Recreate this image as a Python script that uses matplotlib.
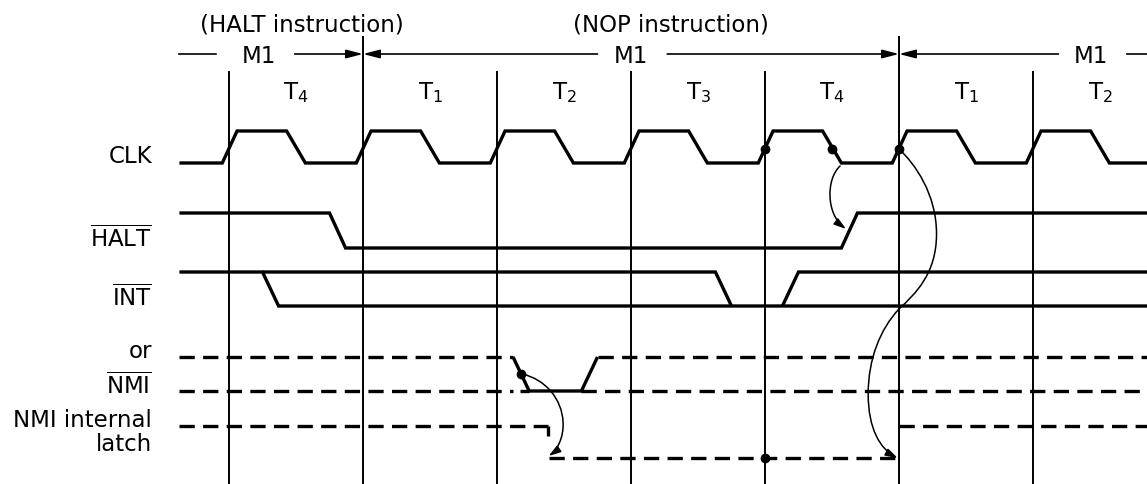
import numpy as np
import matplotlib
matplotlib.use('Agg')
import matplotlib.pyplot as plt
from matplotlib.path import Path
from matplotlib.patches import FancyArrowPatch

plt.rcParams['font.family'] = ['DejaVu Sans']
plt.rcParams['mathtext.fontset'] = 'dejavusans'
plt.rcParams['lines.scale_dashes'] = False

# ---- data: time in clock periods (T-state boundaries at 0..6), level 0/1 ----
t_subs = ['4', '1', '2', '3', '4', '1', '2']
boundaries = [0, 1, 2, 3, 4, 5, 6]
m1_bounds = [1, 5]

clk_t = [-0.37, -0.05, 0.06, 0.43, 0.57,
         0.95, 1.06, 1.43, 1.57,
         1.95, 2.06, 2.43, 2.57,
         2.95, 3.06, 3.43, 3.57,
         3.95, 4.06, 4.43, 4.57,
         4.95, 5.06, 5.43, 5.57,
         5.95, 6.06, 6.43, 6.57, 6.86]
clk_v = [0, 0, 1, 1, 0,
         0, 1, 1, 0,
         0, 1, 1, 0,
         0, 1, 1, 0,
         0, 1, 1, 0,
         0, 1, 1, 0,
         0, 1, 1, 0, 0]

halt_t = [-0.37, 0.75, 0.87, 4.57, 4.69, 6.86]
halt_v = [1, 1, 0, 0, 1, 1]

int_a_t = [-0.37, 0.25, 0.37, 6.86]
int_a_v = [1, 1, 0, 0]
int_b_t = [0.25, 3.63, 3.75]
int_b_v = [1, 1, 0]
int_c_t = [4.13, 4.25, 6.86]
int_c_v = [0, 1, 1]

# NMI: solid part of the pulse, dashed "don't care" segments (t0, t1, level)
nmi_solid_t = [2.12, 2.24, 2.63, 2.75]
nmi_solid_v = [1, 0, 0, 1]
nmi_low_pre = [2.17, 2.24]
nmi_dashed = [(-0.37, 2.12, 1), (-0.37, 2.12, 0), (2.75, 6.86, 1), (2.63, 6.86, 0)]

latch_dashed = [(-0.37, 2.38, 1), (2.39, 5.0, 0), (5.0, 6.86, 1)]
latch_step_t = [2.38, 2.38]
latch_step_v = [1, 0.69]

clk_dots = [4.0, 4.5, 5.0]
nmi_dot = 2.18
latch_dot = 4.0

# curved arrows (t, y) bezier points
arr_halt = [(4.56, 167), (4.455, 180), (4.455, 215), (4.605, 230)]
arr_big = [(5.0, 150), (5.12, 165), (5.28, 195), (5.28, 235),
           (5.28, 275), (5.12, 295), (5.0, 310),
           (4.86, 330), (4.77, 360), (4.77, 395),
           (4.77, 430), (4.86, 450), (4.99, 459)]
arr_nmi = [(2.187, 375), (2.36, 380), (2.485, 400), (2.493, 423),
           (2.5, 440), (2.44, 452), (2.385, 457)]

# ---- layout ----
W, H = 1147, 485
X0, PER = 229, 134
row_low = {'CLK': 164, 'HALT': 249, 'INT': 307, 'NMI': 392, 'LATCH': 459}
row_high = {'CLK': 132, 'HALT': 214, 'INT': 273, 'NMI': 358, 'LATCH': 427}
LW = 2.4
DASH = (0, (11, 6))


def lev(row, v):
    v = np.asarray(v, dtype=float)
    return row_low[row] + (row_high[row] - row_low[row]) * v


fig = plt.figure(figsize=(W / 100, H / 100), dpi=100)
ax = fig.add_axes([0, 0, 1, 1])
ax.set_xlim(-X0 / PER, (W - X0) / PER)
ax.set_ylim(H, 0)
ax.axis('off')

kw = dict(color='black', lw=LW, solid_joinstyle='miter', solid_capstyle='butt')
dkw = dict(color='black', lw=LW, ls=DASH, dash_capstyle='butt')

# boundaries
for b in boundaries:
    top = 38 if b in m1_bounds else 73
    ax.plot([b, b], [top, H], color='black', lw=1.4)

# signals
ax.plot(clk_t, lev('CLK', clk_v), **kw)
ax.plot(halt_t, lev('HALT', halt_v), **kw)
ax.plot(int_a_t, lev('INT', int_a_v), **kw)
ax.plot(int_b_t, lev('INT', int_b_v), **kw)
ax.plot(int_c_t, lev('INT', int_c_v), **kw)
ax.plot(nmi_solid_t, lev('NMI', nmi_solid_v), **kw)
ax.plot(nmi_low_pre, lev('NMI', [0, 0]), **kw)
for t0, t1, v in nmi_dashed:
    ax.plot([t0, t1], lev('NMI', [v, v]), **dkw)
for t0, t1, v in latch_dashed:
    ax.plot([t0, t1], lev('LATCH', [v, v]), **dkw)
ax.plot(latch_step_t, lev('LATCH', latch_step_v), **kw)

# dots
ax.plot(clk_dots, lev('CLK', [0.45] * len(clk_dots)), 'o', color='black', ms=6)
ax.plot([nmi_dot], lev('NMI', [0.5]), 'o', color='black', ms=6)
ax.plot([latch_dot], lev('LATCH', [0]), 'o', color='black', ms=6)


def curve(pts):
    codes = [Path.MOVETO] + [Path.CURVE4] * (len(pts) - 1)
    p = Path(pts, codes)
    ax.add_patch(FancyArrowPatch(path=p, arrowstyle='-|>,head_length=0.45,head_width=0.14',
                                 mutation_scale=16, color='black', lw=1.1))


curve(arr_halt)
curve(arr_big)
curve(arr_nmi)

# M1 arrows
M1_Y = 55
m1_segments = [((-0.37, -0.10), '-'), ((0.49, 1.0), '-|>'),
               ((1.0, 2.75), '<|-'), ((3.27, 5.0), '-|>'),
               ((5.0, 6.19), '<|-'), ((6.70, 6.86), '-')]
for (a, b), st in m1_segments:
    if st == '-':
        ax.plot([a, b], [M1_Y, M1_Y], color='black', lw=1.2)
    else:
        ax.add_patch(FancyArrowPatch((a, M1_Y), (b, M1_Y),
                                     arrowstyle=st + ',head_length=0.5,head_width=0.13',
                                     mutation_scale=20, color='black', lw=1.2,
                                     shrinkA=0, shrinkB=0))
for tx in [0.22, 3.0, 6.43]:
    ax.text(tx, 63, 'M1', ha='center', va='baseline', fontsize=16.5)

ax.text(-0.216, 32, '(HALT instruction)', ha='left', va='baseline', fontsize=16.5)
ax.text(2.567, 32, '(NOP instruction)', ha='left', va='baseline', fontsize=16.5)

for b, s in zip(boundaries, t_subs):
    ax.text(b + 0.5, 99, r'$\mathrm{T}_{%s}$' % s, ha='center', va='baseline', fontsize=16.5)

LX = -0.575
labels = [('CLK', 163), (r'$\overline{\mathrm{HALT}}$', 247), (r'$\overline{\mathrm{INT}}$', 306),
          ('or', 358), (r'$\overline{\mathrm{NMI}}$', 394), ('NMI internal', 427), ('latch', 451)]
for s, y in labels:
    ax.text(LX, y, s, ha='right', va='baseline', fontsize=16.5)

fig.savefig('out.png', dpi=100)
